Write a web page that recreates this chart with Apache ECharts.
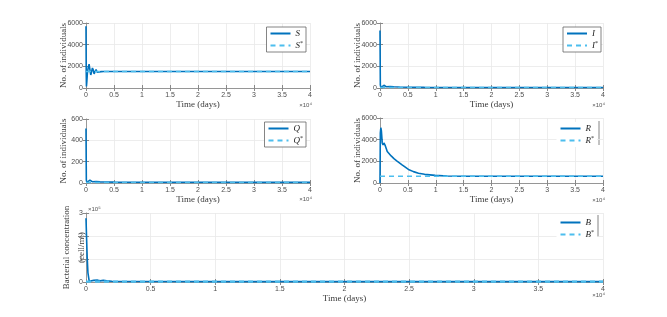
<!DOCTYPE html>
<html><head><meta charset="utf-8">
<script src="https://cdn.jsdelivr.net/npm/echarts@6/dist/echarts.min.js"></script>
<style>html,body{margin:0;padding:0;background:#fff}#c{width:667px;height:317px}</style>
</head><body><div id="c"></div>
<script>
// ---- data ----
const xTicks = [0, 5000, 10000, 15000, 20000, 25000, 30000, 35000, 40000];
const tS = [0, 40, 80, 150, 250, 400, 550, 700, 850, 1000, 1150, 1300, 1450, 1600, 1800, 2000, 2300, 2700, 3200, 40000];
const S  = [5700, 1500, 150, 600, 1400, 1900, 2200, 1700, 1200, 1500, 1850, 1650, 1300, 1500, 1700, 1450, 1580, 1510, 1530, 1530];
const Sstar = 1530;
const tI = [0, 60, 150, 300, 500, 700, 800, 900, 1100, 1400, 1800, 2500, 3500, 5000, 8000, 12000, 40000];
const I  = [5300, 300, 30, 20, 60, 250, 300, 200, 120, 150, 130, 110, 90, 75, 60, 50, 40];
const Istar = 40;
const tQ = [0, 60, 150, 300, 500, 700, 800, 900, 1100, 1400, 1800, 2500, 3500, 5000, 8000, 40000];
const Q  = [510, 30, 3, 2, 8, 28, 32, 20, 12, 16, 13, 11, 9, 8, 7, 6];
const Qstar = 5;
const tR = [0, 60, 150, 250, 400, 550, 700, 900, 1100, 1300, 1600, 2000, 2500, 3000, 3900, 5100, 6000, 6900, 8000, 9900, 12000, 15000, 20000, 40000];
const R  = [0, 4600, 5100, 4800, 3700, 3500, 3700, 3500, 3200, 2900, 2750, 2500, 2250, 2050, 1700, 1250, 1050, 900, 800, 700, 650, 630, 620, 620];
const Rstar = 620;
const tB = [0, 40, 90, 150, 250, 400, 600, 750, 900, 1100, 1340, 1600, 2000, 3000, 5000, 10000, 40000];
const B  = [277000, 200000, 110000, 40000, 3000, 2000, 7000, 10000, 8000, 5000, 7000, 5000, 3500, 2500, 2000, 1500, 1500];
const Bstar = 1500;

const zip = (t, v) => t.map((x, i) => [x, v[i]]);
const flat = (v) => [[0, v], [40000, v]];

const C1 = '#0072BD', C2 = '#4DBEEE';
const grids = [
  {left: 86, top: 23, width: 224, height: 65},
  {left: 380, top: 23, width: 223, height: 65},
  {left: 86, top: 119, width: 224, height: 64},
  {left: 380, top: 118, width: 223, height: 65},
  {left: 86, top: 213, width: 517, height: 69}
];
const yMax = [6000, 6000, 600, 6000, 300000];
const yInt = [2000, 2000, 200, 2000, 100000];
const yName = ['No. of individuals', 'No. of individuals', 'No. of individuals', 'No. of individuals', 'Bacterial concentration\n(cell/ml)'];

const labelFont = {fontFamily: 'Liberation Sans', fontSize: 7, color: '#4d4d4d'};
const nameFont = {fontFamily: 'Liberation Serif', fontSize: 9, color: '#3a3a3a'};

const xAxis = [], yAxis = [];
grids.forEach((g, i) => {
  xAxis.push({
    type: 'value', gridIndex: i, min: 0, max: 40000, interval: 5000, position: 'bottom',
    name: 'Time (days)', nameLocation: 'middle', nameGap: 9, nameTextStyle: nameFont,
    axisLine: {show: true, lineStyle: {color: '#bbb', width: 0.6}},
    axisTick: {inside: true, length: 3, lineStyle: {color: '#888'}},
    axisLabel: Object.assign({margin: 4, formatter: v => String(v / 10000)}, labelFont),
    splitLine: {show: true, lineStyle: {color: '#e9e9e9', width: 0.8}}
  });
  xAxis.push({
    type: 'value', gridIndex: i, min: 0, max: 40000, interval: 5000, position: 'top',
    axisLine: {show: true, lineStyle: {color: '#888', width: 0.8}},
    axisTick: {inside: true, length: 3, lineStyle: {color: '#888'}},
    axisLabel: {show: false}, splitLine: {show: false}
  });
  yAxis.push({
    type: 'value', gridIndex: i, min: 0, max: yMax[i], interval: yInt[i], position: 'left',
    name: yName[i], nameLocation: 'middle', nameGap: i === 4 ? -3 : 15, nameMoveOverlap: false,
    nameTextStyle: Object.assign({lineHeight: 15}, nameFont),
    axisLine: {show: true, lineStyle: {color: '#ccc', width: 0.6}},
    axisTick: {inside: true, length: 3, lineStyle: {color: '#888'}},
    axisLabel: Object.assign({margin: 3, formatter: v => i === 4 ? String(v / 100000) : String(v)}, labelFont),
    splitLine: {show: true, lineStyle: {color: '#e9e9e9', width: 0.8}}
  });
  yAxis.push({
    type: 'value', gridIndex: i, min: 0, max: yMax[i], interval: yInt[i], position: 'right',
    axisLine: {show: true, lineStyle: {color: '#888', width: 0.8}},
    axisTick: {inside: true, length: 3, lineStyle: {color: '#888'}},
    axisLabel: {show: false}, splitLine: {show: false}
  });
});

const names = [['S', 'S*'], ['I', 'I*'], ['Q', 'Q*'], ['R', 'R*'], ['B', 'B*']];
const solid = [zip(tS, S), zip(tI, I), zip(tQ, Q), zip(tR, R), zip(tB, B)];
const star = [flat(Sstar), flat(Istar), flat(Qstar), flat(Rstar), flat(Bstar)];
const series = [];
grids.forEach((g, i) => {
  series.push({
    name: names[i][0], type: 'line', xAxisIndex: 2 * i, yAxisIndex: 2 * i, data: solid[i],
    symbol: 'none', lineStyle: {color: C1, width: 1.6}, itemStyle: {color: C1}, animation: false
  });
  series.push({
    name: names[i][1], type: 'line', xAxisIndex: 2 * i, yAxisIndex: 2 * i, data: star[i],
    symbol: 'none', lineStyle: {color: C2, width: i === 4 ? 2.4 : 1.6, type: [5, 4]}, itemStyle: {color: C2}, animation: false
  });
});

const legPos = [
  {right: 361, top: 27, box: true},
  {right: 66, top: 27, box: true},
  {right: 361, top: 122, box: true},
  {right: 70, top: 122, box: false},
  {right: 70, top: 216, box: false}
];
const legend = legPos.map((p, i) => ({
  data: names[i], orient: 'vertical', right: p.right, top: p.top,
  itemWidth: 20, itemHeight: 8, itemGap: 2,
  padding: [2, 3, 2, 3],
  borderColor: p.box ? '#666' : 'transparent', borderWidth: p.box ? 0.8 : 0,
  backgroundColor: '#fff',
  itemStyle: {opacity: 0},
  formatter: n => n.endsWith('*') ? '{v|' + n.slice(0, -1) + '}{s|*}' : '{v|' + n + '}',
  textStyle: {
    rich: {
      v: {fontFamily: 'Liberation Serif', fontStyle: 'italic', fontSize: 9, color: '#222'},
      s: {fontFamily: 'Liberation Serif', fontSize: 6, color: '#222', padding: [0, 0, 5, 0]}
    }
  }
}));

const graphic = [];
[[310, 102], [603, 102], [310, 196], [603, 197], [603, 292]].forEach(([x, y]) => {
  graphic.push({type: 'text', right: 667 - x - 2, top: y, style: {text: '×10⁴', font: '6px Liberation Sans', fill: '#555'}});
});
graphic.push({type: 'text', left: 88, top: 206, style: {text: '×10⁵', font: '6px Liberation Sans', fill: '#555'}});
// partial legend frame strokes as in the reference
graphic.push({type: 'line', shape: {x1: 599, y1: 121, x2: 599, y2: 145}, style: {stroke: '#666', lineWidth: 0.8}});
graphic.push({type: 'line', shape: {x1: 598, y1: 215, x2: 598, y2: 237}, style: {stroke: '#666', lineWidth: 0.8}});

const chart = echarts.init(document.getElementById('c'), null, {renderer: 'canvas'});
chart.setOption({
  animation: false,
  backgroundColor: '#fff',
  grid: grids,
  xAxis, yAxis, series, legend, graphic
});
</script></body></html>
